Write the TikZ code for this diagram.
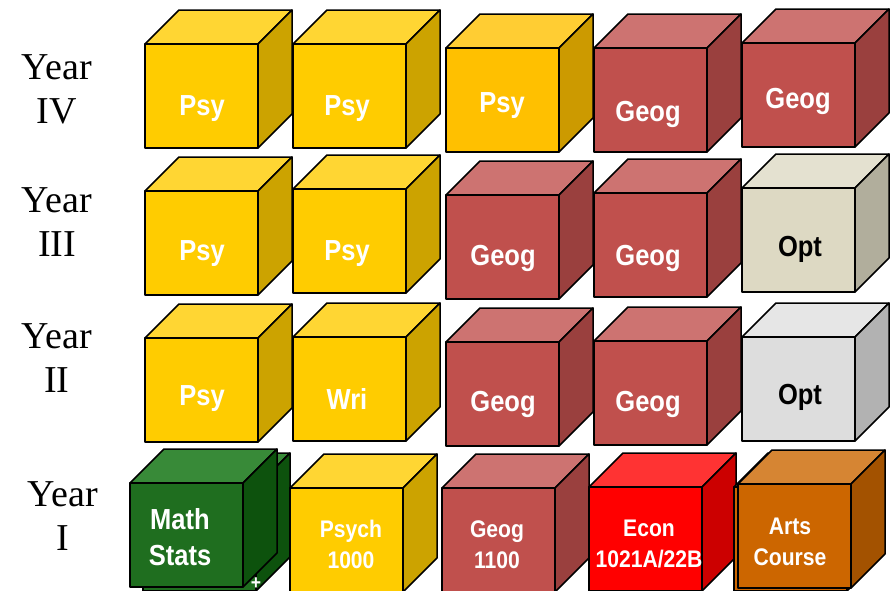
\documentclass[tikz,border=0pt]{standalone}
\usepackage{fontspec}
\setmainfont{Liberation Serif}
\newfontfamily\cubefont[FakeStretch=0.88]{Liberation Sans}

\definecolor{psyfront}{HTML}{FFCC00}
\definecolor{psytop}{HTML}{FFD633}
\definecolor{psyside}{HTML}{CCA300}
\definecolor{psybfront}{HTML}{FFC000}
\definecolor{psybtop}{HTML}{FFCD33}
\definecolor{psybside}{HTML}{CC9A00}
\definecolor{geogfront}{HTML}{C0504D}
\definecolor{geogtop}{HTML}{CD7371}
\definecolor{geogside}{HTML}{9A403E}
\definecolor{optafront}{HTML}{DDD9C3}
\definecolor{optatop}{HTML}{E4E1D0}
\definecolor{optaside}{HTML}{B1AE9C}
\definecolor{optbfront}{HTML}{DDDDDD}
\definecolor{optbtop}{HTML}{E6E6E6}
\definecolor{optbside}{HTML}{B2B2B2}
\definecolor{mathfront}{HTML}{1F6E1F}
\definecolor{mathtop}{HTML}{388A38}
\definecolor{mathside}{HTML}{0D520D}
\definecolor{econfront}{HTML}{FF0000}
\definecolor{econtop}{HTML}{FF3333}
\definecolor{econside}{HTML}{CC0000}
\definecolor{artsfront}{HTML}{CC6600}
\definecolor{artstop}{HTML}{D68533}
\definecolor{artsside}{HTML}{A35200}

\tikzset{
  cubeline/.style={draw=black, line width=1.5pt, line join=round},
  cubetext/.style={font=\cubefont\bfseries\fontsize{29}{32}\selectfont, text=white, align=center},
  firstyear/.style={font=\cubefont\bfseries\fontsize{24}{31}\selectfont},
  yearlabel/.style={font=\fontsize{38}{44}\selectfont, align=center}
}

% [label style]{name}{left}{top}{colour}{label pos}{label}
\newcommand{\cube}[7][]{%
  \begin{scope}[shift={(#3,#4)}]
  \filldraw[cubeline, fill=#5top] (0,0) -- (34,-34) -- (147,-34) -- (113,0) -- cycle;
  \filldraw[cubeline, fill=#5side] (113,0) -- (147,-34) -- (147,70) -- (113,104) -- cycle;
  \filldraw[cubeline, fill=#5front] (0,0) rectangle (113,104);
  \node[cubetext, #1] (#2) at #6 {#7};
  \end{scope}}

\begin{document}
\begin{tikzpicture}[x=1pt, y=-1pt]
\clip (0,0) rectangle (896,590);
\fill[white] (0,0) rectangle (896,590);

\node[yearlabel] (y4) at (57,89) {Year\\IV};
\node[yearlabel] (y3) at (57,222) {Year\\III};
\node[yearlabel] (y2) at (57,358) {Year\\II};
\node[yearlabel] (y1) at (63,516) {Year\\I};

% year IV
\cube{psy41}{145}{44}{psy}{(57,65)}{Psy}
\cube{psy42}{293}{44}{psy}{(54,65)}{Psy}
\cube{psy43}{446}{48}{psyb}{(56,58)}{Psy}
\cube{geog44}{594}{48}{geog}{(54,66)}{Geog}
\cube{geog45}{742}{43}{geog}{(56,58)}{Geog}

% year III
\cube{psy31}{145}{191}{psy}{(57,63)}{Psy}
\cube{psy32}{293}{189}{psy}{(54,65)}{Psy}
\cube{geog33}{446}{195}{geog}{(57,63)}{Geog}
\cube{geog34}{594}{193}{geog}{(54,65)}{Geog}
\cube[text=black]{opt35}{742}{188}{opta}{(58,61)}{Opt}

% year II
\cube{psy21}{145}{338}{psy}{(57,61)}{Psy}
\cube{wri22}{293}{337}{psy}{(54,62)}{Wri}
\cube{geog23}{446}{342}{geog}{(57,62)}{Geog}
\cube{geog24}{594}{341}{geog}{(54,63)}{Geog}
\cube[text=black]{opt25}{742}{337}{optb}{(58,60)}{Opt}

% year I
\cube[font=\cubefont\bfseries\fontsize{20}{20}\selectfont]{plus}{143}{487}{math}{(113,97)}{+}
\cube[font=\cubefont\bfseries\fontsize{29}{36}\selectfont]{math}{130}{483}{math}{(50,54)}{Math\\Stats}
\cube[firstyear]{psych}{290}{488}{psy}{(61,56)}{Psych\\1000}
\cube[firstyear]{geog}{442}{488}{geog}{(55,57)}{Geog\\1100}
\cube[firstyear]{econ}{589}{487}{econ}{(60,57)}{Econ\\1021A/22B}
\cube[firstyear]{artsback}{734}{487}{arts}{(56,52)}{}
\cube[firstyear]{arts}{738}{484}{arts}{(52,58)}{Arts\\Course}
\end{tikzpicture}
\end{document}
